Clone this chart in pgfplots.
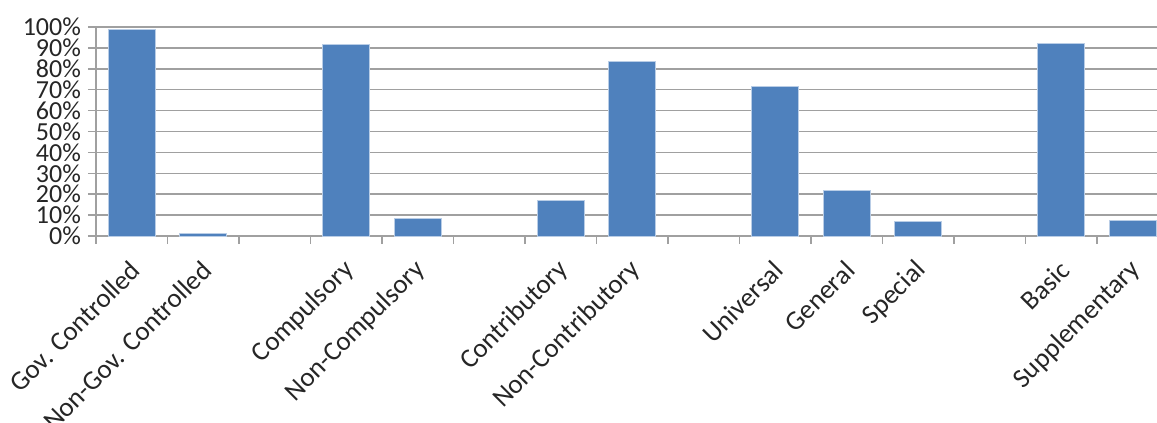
\documentclass[border=0pt]{standalone}
\usepackage{pgfplots}
\pgfplotsset{compat=1.18}
\usepackage{fontspec}
\setmainfont{Carlito}
\definecolor{barblue}{RGB}{79,129,189}
\definecolor{gridgray}{RGB}{160,160,160}
\begin{document}
\begin{tikzpicture}
\begin{axis}[
  name=ax,
  scale only axis,
  width=530.5pt, height=104.5pt,
  xmin=-0.5, xmax=14.34, ymin=0, ymax=1,
  axis x line=bottom, axis y line=left,
  axis line style={draw=gridgray, line width=0.75pt, -},
  ybar, bar width=23.5pt, bar shift=0pt,
  xtick={0,...,14},
  xticklabels={Gov. Controlled, Non-Gov. Controlled, {}, Compulsory, Non-Compulsory, {}, Contributory, Non-Contributory, {}, Universal, General, Special, {}, Basic, Supplementary},
  major x tick style={draw=none},
  minor xtick={-0.5,0.5,...,13.5},
  minor x tick style={draw=gridgray, line width=0.75pt},
  tick align=outside,
  minor tick length=4pt,
  major tick length=4pt,
  ytick={0,0.1,0.2,0.3,0.4,0.5,0.6,0.7,0.8,0.9,1},
  yticklabels={0\%,10\%,20\%,30\%,40\%,50\%,60\%,70\%,80\%,90\%,100\%},
  ymajorgrids,
  grid style={draw=gridgray, line width=0.75pt},
  major y tick style={draw=gridgray, line width=0.75pt},
  yticklabel style={font=\fontsize{13}{13}\selectfont, text=black!85},
  xticklabel style={font=\fontsize{13.5}{13.5}\selectfont, text=black!85, rotate=45, anchor=east, xshift=-3pt, yshift=-9pt},
  clip=true,
]
\addplot[fill=barblue, draw={rgb,255:red,185;green,205;blue,230}, line width=0.5pt]
  coordinates {(0,0.990) (1,0.014) (3,0.917) (4,0.083) (6,0.169) (7,0.836)
               (9,0.714) (10,0.217) (11,0.070) (13,0.922) (14,0.075)};
\end{axis}
\pgfresetboundingbox
\path (ax.south west) ++(-48pt,-93.5pt) rectangle ++(578.5pt,211.5pt);
\end{tikzpicture}
\end{document}
